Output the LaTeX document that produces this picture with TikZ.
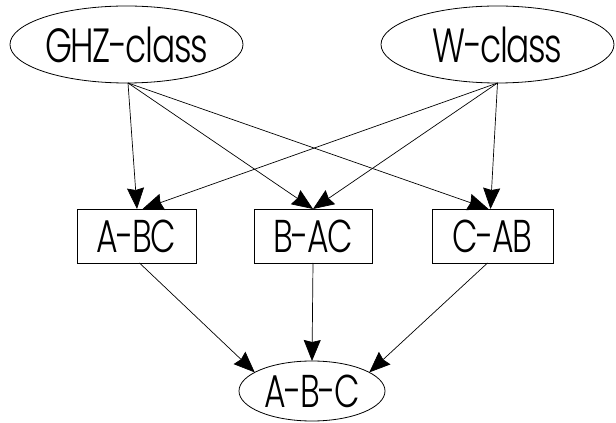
\documentclass[tikz,border=0pt]{standalone}
\usepackage{fontspec}
\setmainfont{Poppins Light}[FakeStretch=0.72,LetterSpace=-3]
\usetikzlibrary{arrows.meta,shapes.geometric}
\begin{document}
\begin{tikzpicture}[x=1pt,y=1pt,
  every node/.style={inner sep=0pt,outer sep=0pt,line width=0.8pt},
  cls/.style={draw,ellipse,font=\fontsize{48}{52}\selectfont},
  part/.style={draw,rectangle,minimum height=54pt,font=\fontsize{46}{50}\selectfont},
  arr/.style={line width=0.7pt,-{Stealth[length=21pt,width=17pt,inset=2pt]}}]
\useasboundingbox (0,0) rectangle (616,423);
\node[cls,minimum width=233pt,minimum height=77pt] (ghz) at (126.5,378.5) {GHZ-class};
\node[cls,minimum width=233pt,minimum height=77pt] (w) at (497.5,378.5) {W-class};
\node[part,minimum width=119pt] (abc1) at (136.5,187) {A-BC};
\node[part,minimum width=118pt] (bac) at (313,187) {B-AC};
\node[part,minimum width=121pt] (cab) at (492.5,187) {C-AB};
\node[cls,minimum width=146pt,minimum height=60pt,font=\fontsize{46}{50}\selectfont] (abc) at (312,32) {A-B-C};
\draw[arr] ([xshift=1.5pt]ghz.south) -- ([xshift=0.5pt]abc1.north);
\draw[arr] ([xshift=1.5pt]ghz.south) -- (bac.north);
\draw[arr] ([xshift=1.5pt]ghz.south) -- ([xshift=-4pt]cab.north);
\draw[arr] (w.south) -- ([xshift=6pt]abc1.north);
\draw[arr] (w.south) -- (bac.north);
\draw[arr] (w.south) -- ([xshift=-2pt]cab.north);
\draw[arr] ([xshift=3pt]abc1.south) -- (abc.162);
\draw[arr] (bac.south) -- (abc.north);
\draw[arr] ([xshift=-5pt]cab.south) -- (abc.18);
\end{tikzpicture}
\end{document}
